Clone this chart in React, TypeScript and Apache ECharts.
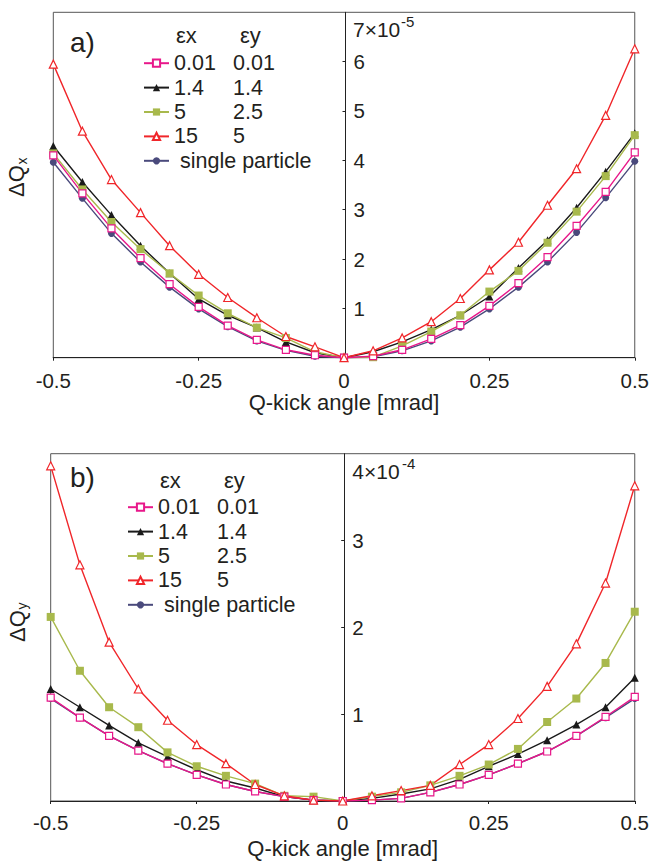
import React, { useEffect, useRef } from "react";
import * as echarts from "echarts";

const FONT = '"Liberation Sans", Arial, Helvetica, sans-serif';

// Q-kick angle [mrad]
const kick = [-0.5, -0.45, -0.4, -0.35, -0.3, -0.25, -0.2, -0.15, -0.1, -0.05, 0, 0.05, 0.1, 0.15, 0.2, 0.25, 0.3, 0.35, 0.4, 0.45, 0.5];

// legend entries: [εx, εy]
const emitX = ["0.01", "1.4", "5", "15"];
const emitY = ["0.01", "1.4", "2.5", "5"];
const seriesNames = ["0.01 / 0.01", "1.4 / 1.4", "5 / 2.5", "15 / 5", "single particle"];

// Panel a) ΔQx in units of 1e-5
const aPink = [4.10, 3.33, 2.62, 2.02, 1.49, 1.03, 0.65, 0.36, 0.16, 0.05, 0, 0.03, 0.16, 0.38, 0.66, 1.05, 1.51, 2.04, 2.67, 3.36, 4.16];
const aBlack = [4.29, 3.56, 2.89, 2.27, 1.71, 1.19, 0.86, 0.61, 0.32, 0.10, 0, 0.12, 0.32, 0.57, 0.86, 1.24, 1.82, 2.38, 3.04, 3.77, 4.55];
const aGreen = [4.14, 3.41, 2.75, 2.20, 1.71, 1.26, 0.90, 0.61, 0.40, 0.12, 0, 0.01, 0.24, 0.53, 0.86, 1.34, 1.76, 2.33, 2.96, 3.68, 4.51];
const aRed = [5.95, 4.59, 3.61, 2.94, 2.27, 1.69, 1.22, 0.81, 0.43, 0.22, 0, 0.14, 0.40, 0.73, 1.20, 1.78, 2.34, 3.09, 3.83, 4.91, 6.26];
const aBlue = [3.96, 3.23, 2.52, 1.94, 1.43, 0.99, 0.63, 0.34, 0.15, 0.03, 0, 0.02, 0.14, 0.34, 0.62, 0.99, 1.43, 1.94, 2.54, 3.24, 3.98];

// Panel b) ΔQy in units of 1e-4
const bPink = [1.19, 0.96, 0.75, 0.58, 0.43, 0.30, 0.19, 0.11, 0.05, 0.01, 0, 0.01, 0.03, 0.10, 0.19, 0.30, 0.43, 0.57, 0.75, 0.97, 1.20];
const bBlack = [1.29, 1.08, 0.87, 0.67, 0.51, 0.36, 0.23, 0.15, 0.05, 0.01, 0, 0.03, 0.08, 0.14, 0.25, 0.40, 0.54, 0.70, 0.88, 1.08, 1.42];
const bGreen = [2.12, 1.50, 1.08, 0.85, 0.56, 0.40, 0.29, 0.20, 0.06, 0.05, 0, 0.05, 0.10, 0.18, 0.29, 0.42, 0.60, 0.91, 1.18, 1.59, 2.18];
const bRed = [3.86, 2.72, 1.83, 1.29, 0.93, 0.65, 0.43, 0.19, 0.06, 0.01, 0, 0.06, 0.12, 0.18, 0.42, 0.65, 0.95, 1.32, 1.81, 2.51, 3.63];
const bBlue = [1.18, 0.96, 0.75, 0.58, 0.43, 0.30, 0.19, 0.11, 0.05, 0.01, 0, 0.01, 0.03, 0.10, 0.19, 0.30, 0.43, 0.57, 0.75, 0.96, 1.18];

const aMaxY = 7;
const bMaxY = 4;

const COLORS = ["#e8178a", "#1a1a1a", "#a8b94c", "#f0262a", "#4a4a7c"];
const SYMBOLS = ["rect", "triangle", "rect", "triangle", "circle"];
const SIZES = [7, 8, 8, 8, 7];
const HOLLOW = [true, false, false, true, false];

const TEXT = "#231f20";

const GRID_A = { left: 53.3, top: 12.3, width: 584.4, height: 345.4 };
const GRID_B = { left: 50.7, top: 453.7, width: 587, height: 347.3 };

function makeSeries(idx: number, values: number[], grid: number) {
  const c = COLORS[idx];
  return {
    type: "line",
    name: seriesNames[idx],
    xAxisIndex: grid,
    yAxisIndex: grid,
    data: kick.map((k, i) => [k, values[i]]),
    symbol: SYMBOLS[idx],
    symbolSize: SIZES[idx],
    showAllSymbol: true,
    lineStyle: { color: c, width: 1.4 },
    itemStyle: HOLLOW[idx]
      ? { color: "#ffffff", borderColor: c, borderWidth: 1.2 }
      : { color: c, borderColor: c, borderWidth: 0 },
    emphasis: { disabled: true },
  };
}

function legendFormatter(name: string) {
  const i = seriesNames.indexOf(name);
  if (i < 4) return `{a|${emitX[i]}}{b|${emitY[i]}}`;
  return `{c|${name}}`;
}

function makeLegend(left: number, top: number) {
  return {
    orient: "vertical",
    left,
    top,
    padding: 0,
    itemGap: 0,
    itemWidth: 25,
    itemHeight: 9,
    selectedMode: false,
    data: seriesNames,
    formatter: legendFormatter,
    textStyle: {
      fontFamily: FONT,
      fontSize: 21.5,
      color: TEXT,
      lineHeight: 24.4,
      rich: {
        a: { width: 59, fontSize: 21.5, fontFamily: FONT, color: TEXT, lineHeight: 24.4 },
        b: { fontSize: 21.5, fontFamily: FONT, color: TEXT, lineHeight: 24.4 },
        c: { fontSize: 21.5, fontFamily: FONT, color: TEXT, lineHeight: 24.4, padding: [0, 0, 0, 6] },
      },
    },
  };
}

function makeXAxis(grid: number, labelMargin: number, nameGap: number) {
  return {
    type: "value",
    gridIndex: grid,
    min: -0.5,
    max: 0.5,
    interval: 0.25,
    name: "Q-kick angle [mrad]",
    nameLocation: "middle",
    nameGap,
    nameTextStyle: { fontFamily: FONT, fontSize: 22, color: TEXT },
    axisLine: { onZero: false, lineStyle: { color: "#222", width: 1.2 } },
    axisTick: { show: true, inside: false, length: 3, lineStyle: { color: "#222" } },
    axisLabel: { fontFamily: FONT, fontSize: 20.5, color: TEXT, margin: labelMargin },
    splitLine: { show: false },
  };
}

function makeYAxis(grid: number, max: number, halfWidth: number) {
  return {
    type: "value",
    gridIndex: grid,
    position: "left",
    offset: -halfWidth,
    min: 0,
    max,
    interval: 1,
    axisLine: { show: true, onZero: false, lineStyle: { color: "#222", width: 1 } },
    axisTick: { show: true, inside: false, length: 3, lineStyle: { color: "#222" } },
    axisLabel: {
      inside: true,
      margin: 8,
      fontFamily: FONT,
      fontSize: 20.5,
      color: TEXT,
      showMinLabel: false,
      showMaxLabel: false,
    },
    splitLine: { show: false },
  };
}

function txt(text: string, x: number, y: number, fontSize: number, extra: any = {}) {
  return {
    type: "text",
    x,
    y,
    silent: true,
    style: {
      text,
      fontFamily: FONT,
      fontSize,
      fill: TEXT,
      verticalAlign: "middle",
      align: "left",
      ...extra,
    },
  };
}

function yName(cx: number, cy: number, sub: string) {
  return {
    type: "group",
    x: cx,
    y: cy,
    rotation: Math.PI / 2,
    silent: true,
    children: [txt("ΔQ", -20, 0, 22), txt(sub, 12.5, 5, 14)],
  };
}

const option = {
  animation: false,
  backgroundColor: "#ffffff",
  grid: [
    { ...GRID_A, show: true, borderColor: "#555", borderWidth: 1, backgroundColor: "transparent" },
    { ...GRID_B, show: true, borderColor: "#555", borderWidth: 1, backgroundColor: "transparent" },
  ],
  xAxis: [makeXAxis(0, 12, 31), makeXAxis(1, 10.5, 36)],
  yAxis: [makeYAxis(0, aMaxY, GRID_A.width / 2), makeYAxis(1, bMaxY, GRID_B.width / 2)],
  legend: [makeLegend(143, 51), makeLegend(127, 495)],
  series: [
    makeSeries(4, aBlue, 0),
    makeSeries(1, aBlack, 0),
    makeSeries(2, aGreen, 0),
    makeSeries(0, aPink, 0),
    makeSeries(3, aRed, 0),
    makeSeries(4, bBlue, 1),
    makeSeries(1, bBlack, 1),
    makeSeries(2, bGreen, 1),
    makeSeries(0, bPink, 1),
    makeSeries(3, bRed, 1),
  ],
  graphic: [
    txt("a)", 70, 42, 28),
    txt("εx", 176, 35, 22),
    txt("εy", 240, 35, 22),
    txt("7×10", 353, 29, 21),
    txt("-5", 401, 21.5, 15),
    yName(16.5, 177, "x"),
    txt("b)", 70, 477, 28),
    txt("εx", 160, 480, 22),
    txt("εy", 224, 480, 22),
    txt("4×10", 352.3, 471.5, 21),
    txt("-4", 402, 463, 15),
    yName(17, 622, "y"),
  ],
};

export default function App() {
  const ref = useRef<HTMLDivElement>(null);
  useEffect(() => {
    const chart = echarts.init(ref.current!, null, { renderer: "svg" });
    chart.setOption(option as any);
    return () => chart.dispose();
  }, []);
  return (
    <div
      ref={ref}
      style={{ position: "absolute", left: 0, top: 0, width: 652, height: 861 }}
    />
  );
}
